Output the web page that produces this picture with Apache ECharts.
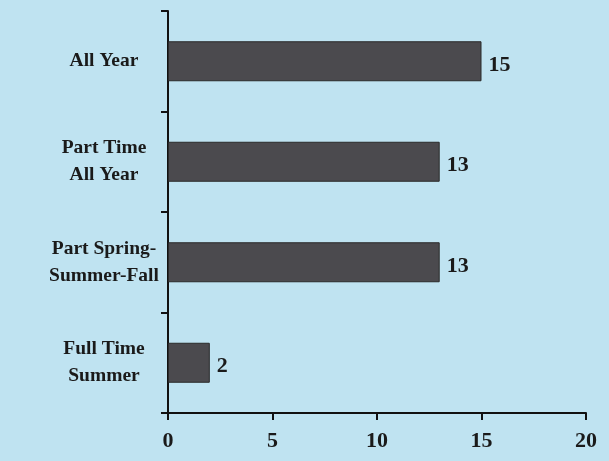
<!DOCTYPE html>
<html><head><meta charset="utf-8">
<script src="https://cdn.jsdelivr.net/npm/echarts@6/dist/echarts.min.js"></script>
<style>html,body{margin:0;padding:0;background:#bfe3f1;}#c{width:609px;height:461px;}</style>
</head><body><div id="c"></div>
<script>
const categories = ["All Year", "Part Time\nAll Year", "Part Spring-\nSummer-Fall", "Full Time\nSummer"];
const values = [15, 13, 13, 2];
const xTicks = [0, 5, 10, 15, 20];

const chart = echarts.init(document.getElementById('c'));
const font = '"Liberation Serif", "Times New Roman", serif';
chart.setOption({
  backgroundColor: '#bfe3f1',
  animation: false,
  grid: {left: 168, right: 23, top: 11, bottom: 48},
  xAxis: {
    type: 'value', min: xTicks[0], max: xTicks[xTicks.length-1], interval: 5,
    splitLine: {show: false},
    axisLine: {show: true, lineStyle: {color: '#111', width: 2}},
    axisTick: {show: true, length: 7, lineStyle: {color: '#111', width: 2}},
    axisLabel: {color: '#1a1a1a', fontFamily: font, fontWeight: 'bold', fontSize: 22, margin: 17}
  },
  yAxis: {
    type: 'category', data: categories, inverse: true,
    axisLine: {lineStyle: {color: '#111', width: 2}},
    axisTick: {show: true, length: 7, lineStyle: {color: '#111', width: 2}},
    axisLabel: {color: '#1a1a1a', fontFamily: font, fontWeight: 'bold', fontSize: 19.5, lineHeight: 27, align: 'center', margin: 64, padding: [4, 0, 0, 0]}
  },
  series: [{
    type: 'bar', data: values, barWidth: 40,
    itemStyle: {color: '#4b4a4e', borderColor: '#2a2a2a', borderWidth: 1},
    label: {show: true, position: 'right', distance: 7, offset: [0, 4], color: '#1a1a1a', fontFamily: font, fontWeight: 'bold', fontSize: 22}
  }]
});
</script></body></html>
